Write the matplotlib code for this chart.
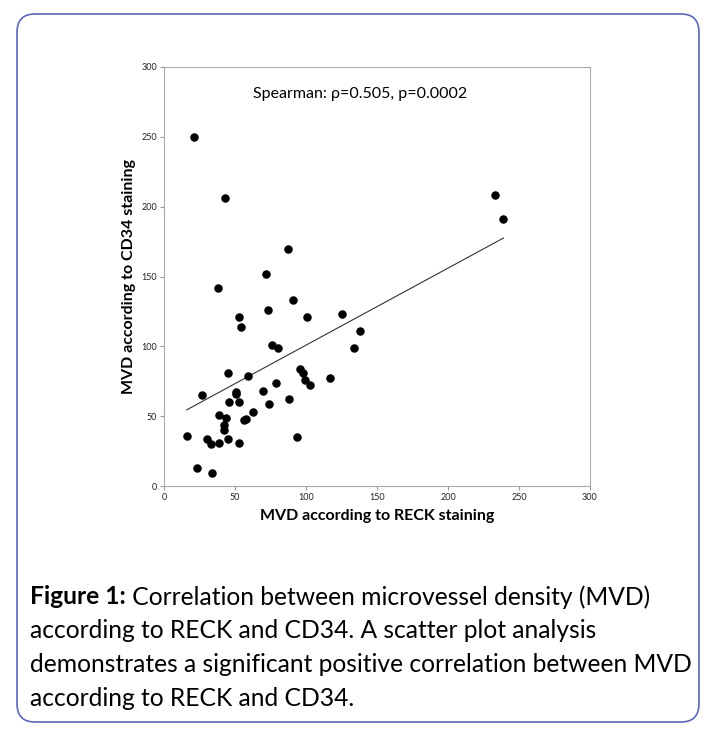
import numpy as np
import matplotlib
matplotlib.use("Agg")
import matplotlib.pyplot as plt
from matplotlib.patches import FancyBboxPatch

# MVD values
reck_mvd = [21, 43, 233, 239, 87, 72, 38, 91, 73, 53, 101, 125, 54, 138,
            76, 80, 134, 45, 59, 96, 98, 99, 103, 117, 79, 27, 51, 51, 70,
            46, 53, 74, 88, 63, 39, 44, 56, 58, 42, 42, 16, 30, 45, 94, 33,
            39, 53, 23, 34]
cd34_mvd = [250, 206, 208, 191, 170, 152, 142, 133, 126, 121, 121, 123, 114, 111,
            101, 99, 99, 81, 79, 84, 81, 76, 72, 77, 74, 65, 67, 66, 68,
            60, 60, 59, 62, 53, 51, 49, 47, 48, 44, 40, 36, 34, 34, 35, 30,
            31, 31, 13, 9]

x_ticks = [0, 50, 100, 150, 200, 250, 300]
y_ticks = [0, 50, 100, 150, 200, 250, 300]

stats_label = "Spearman: \u03c1=0.505, p=0.0002"
caption_bold = "Figure 1:"
caption_lines = [
    " Correlation between microvessel density (MVD)",
    "according to RECK and CD34. A scatter plot analysis",
    "demonstrates a significant positive correlation between MVD",
    "according to RECK and CD34.",
]

plt.rcParams["font.family"] = ["Lato", "DejaVu Sans"]

fig = plt.figure(figsize=(7.15, 7.36), dpi=100)

# rounded frame around figure + caption
frame = FancyBboxPatch((17 / 715, 14 / 736), 682 / 715, 708 / 736,
                       boxstyle="round,pad=0,rounding_size=0.025",
                       transform=fig.transFigure, facecolor="none",
                       edgecolor="#5b67b5", linewidth=1.2, zorder=-1)
fig.patches.append(frame)

ax = fig.add_axes([164 / 715, 1 - 486 / 736, 426 / 715, 419 / 736])

ax.scatter(reck_mvd, cd34_mvd, s=26, color="black", zorder=3)

# linear trend line
slope, intercept = np.polyfit(reck_mvd, cd34_mvd, 1)
xs = np.array([min(reck_mvd), max(reck_mvd)])
ax.plot(xs, slope * xs + intercept, color="#333333", linewidth=0.8)

ax.set_xlim(0, 300)
ax.set_ylim(0, 300)
ax.set_xticks(x_ticks)
ax.set_yticks(y_ticks)
ax.tick_params(labelsize=6.5, length=3, width=0.8, color="#999999",
               labelcolor="#222222", pad=2)
for s in ax.spines.values():
    s.set_color("#aaaaaa")
    s.set_linewidth(0.8)

ax.set_xlabel("MVD according to RECK staining", fontsize=11.5,
              fontweight="bold", labelpad=5)
ax.set_ylabel("MVD according to CD34 staining", fontsize=11.5,
              fontweight="bold", labelpad=4)

ax.text(138, 281, stats_label, fontsize=11.5, ha="center", va="center")

# caption: bold lead-in then regular text
fig.canvas.draw()
renderer = fig.canvas.get_renderer()
y0 = 1 - 597 / 736
step = 34 / 736
lead = fig.text(30 / 715, y0, caption_bold, fontsize=17.7, fontweight="bold",
                va="center", ha="left")
bb = lead.get_window_extent(renderer)
fig.text(bb.x1 / fig.bbox.width, y0, caption_lines[0], fontsize=17.7,
         va="center", ha="left")
for i, line in enumerate(caption_lines[1:], start=1):
    fig.text(30 / 715, y0 - i * step, line, fontsize=17.7, va="center", ha="left")

fig.savefig("out.png", dpi=100)
